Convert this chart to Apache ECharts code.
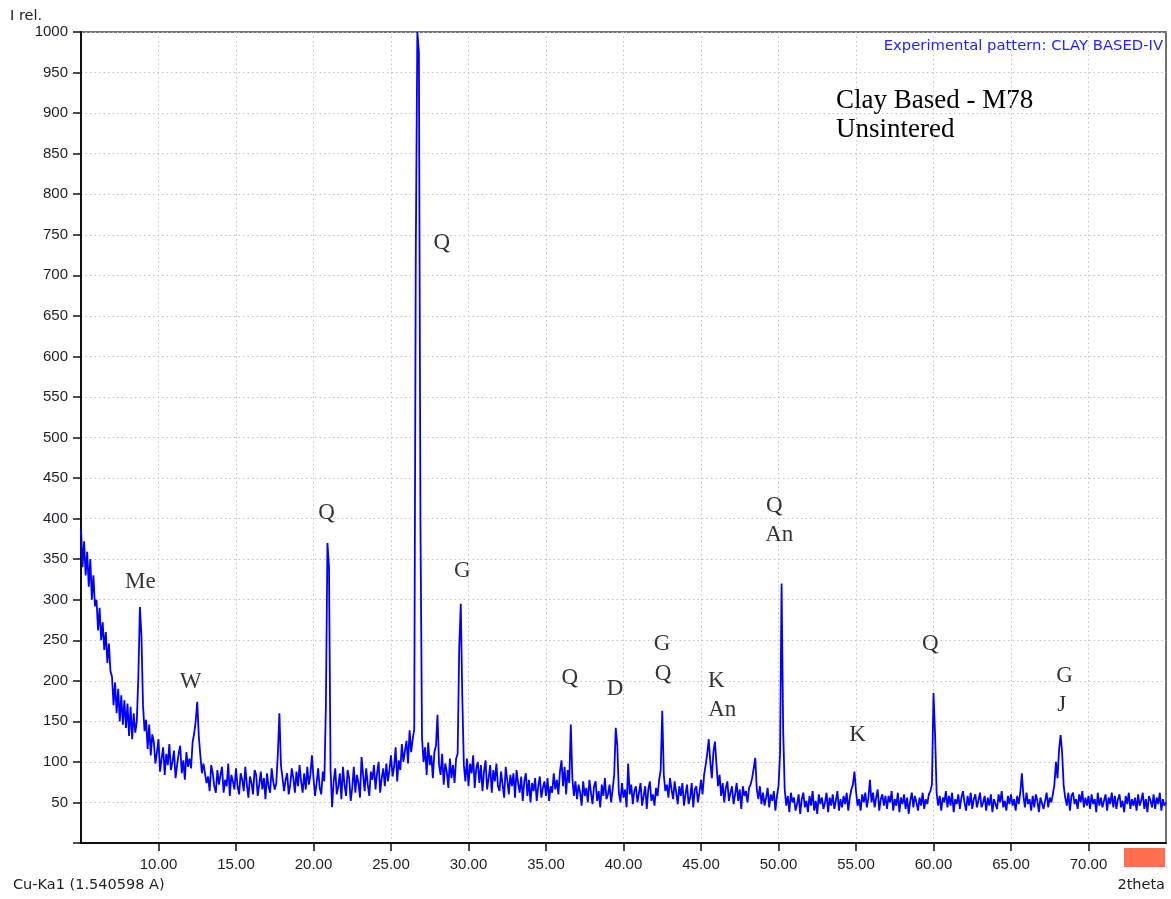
<!DOCTYPE html>
<html>
<head>
<meta charset="utf-8">
<script src="https://cdn.jsdelivr.net/npm/echarts@6/dist/echarts.min.js"></script>
<style>
html,body{margin:0;padding:0;background:#fff;}
#chart{width:1171px;height:899px;}
</style>
</head>
<body>
<div id="chart"></div>
<script>
// Measurement grid (2theta, degrees)
const startAngle = 5.0;
const stepAngle = 0.1;
const intensity = [
/* 5 */ 388,340,372,330,359,316,350,300,330,292,
/* 6 */ 300,262,290,250,272,238,260,222,246,212,
/* 7 */ 205,170,198,160,190,150,182,146,176,142,
/* 8 */ 172,132,168,128,160,136,150,205,291,255,
/* 9 */ 170,138,152,116,146,108,134,124,98,112,
/*10 */ 128,88,104,118,84,110,96,122,90,100,
/*11 */ 114,80,96,110,120,86,102,78,112,94,
/*12 */ 104,92,124,135,150,174,132,108,86,98,
/*13 */ 100,74,82,64,96,86,70,62,90,72,
/*14 */ 84,94,62,78,70,98,58,84,76,66,
/*15 */ 92,70,60,86,78,64,94,72,56,82,
/*16 */ 74,60,90,84,58,72,88,66,80,54,
/*17 */ 86,70,62,92,76,66,74,110,160,96,
/*18 */ 94,64,78,86,60,72,92,80,62,88,
/*19 */ 70,96,76,62,86,66,94,72,84,108,
/*20 */ 80,58,74,92,68,60,88,76,170,370,
/*21 */ 340,90,44,76,92,60,70,86,54,94,
/*22 */ 72,58,90,80,52,68,94,62,84,74,
/*23 */ 56,106,84,64,92,72,58,88,78,96,
/*24 */ 66,86,100,62,80,92,70,98,76,90,
/*25 */ 108,82,94,118,76,102,90,122,100,114,
/*26 */ 126,98,139,112,128,140,730,1000,975,395,
/*27 */ 130,100,118,84,124,96,108,80,112,120,
/*28 */ 158,96,84,110,72,98,88,68,104,80,
/*29 */ 96,74,104,110,240,295,180,96,76,104,
/*30 */ 70,98,86,108,68,92,100,74,96,64,
/*31 */ 88,102,66,80,96,62,90,76,98,70,
/*32 */ 64,88,72,56,94,78,60,84,70,86,
/*33 */ 56,90,74,62,82,52,76,86,58,78,
/*34 */ 50,74,64,80,52,70,82,56,68,76,
/*35 */ 58,80,52,70,62,86,66,78,60,88,
/*36 */ 102,70,94,60,90,74,146,80,58,76,
/*37 */ 54,72,62,46,76,58,68,50,78,62,
/*38 */ 48,70,76,52,64,44,72,58,80,54,
/*39 */ 60,72,50,66,84,142,120,62,50,74,
/*40 */ 56,66,44,98,60,72,48,64,70,50,
/*41 */ 62,74,46,58,70,42,66,76,52,60,
/*42 */ 46,68,58,78,90,163,84,64,72,56,
/*43 */ 80,66,54,76,62,48,70,58,74,46,
/*44 */ 60,72,48,56,74,44,66,70,50,62,
/*45 */ 78,60,84,96,110,128,100,80,112,125,
/*46 */ 96,70,84,58,74,50,68,76,52,62,
/*47 */ 70,48,60,74,52,66,42,70,58,64,
/*48 */ 50,68,72,80,92,105,66,54,70,48,
/*49 */ 62,46,56,68,44,60,52,64,40,58,
/*50 */ 70,110,320,140,66,46,58,38,62,50,
/*51 */ 56,40,48,60,36,54,62,44,52,38,
/*52 */ 58,46,64,40,52,36,60,48,56,42,
/*53 */ 50,62,38,56,46,60,42,52,64,40,
/*54 */ 54,44,58,48,62,40,56,66,72,88,
/*55 */ 64,46,54,40,60,50,62,44,56,78,
/*56 */ 50,62,44,56,66,40,54,60,46,58,
/*57 */ 42,58,50,64,40,54,46,62,38,56,
/*58 */ 48,60,42,56,36,52,62,44,58,50,
/*59 */ 40,56,46,62,42,54,48,60,64,72,
/*60 */ 185,135,62,46,58,40,56,50,64,44,
/*61 */ 58,46,62,38,54,48,60,42,56,64,
/*62 */ 50,40,58,46,62,42,54,60,44,52,
/*63 */ 62,44,50,58,40,56,46,60,38,54,
/*64 */ 56,42,60,50,64,44,52,40,58,48,
/*65 */ 60,46,54,40,58,48,62,86,58,44,
/*66 */ 62,48,54,40,58,44,60,52,38,56,
/*67 */ 58,42,52,62,44,56,50,60,72,100,
/*68 */ 80,115,133,111,70,56,46,62,40,58,
/*69 */ 62,48,54,42,60,50,64,44,56,46,
/*70 */ 58,42,60,48,54,38,62,46,56,44,
/*71 */ 52,60,40,56,48,62,44,58,42,54,
/*72 */ 60,44,52,38,58,48,62,42,54,46,
/*73 */ 56,40,60,46,52,62,42,54,38,58,
/*74 */ 52,44,60,42,56,48,62,40,54,46,
/*75 */ 50
];
// Axis ticks
const xTickValues = [10,15,20,25,30,35,40,45,50,55,60,65,70];
// Phase annotations: text, 2theta, I rel.
const peakLabelText = ['Me','W','Q','Q','G','Q','D','G','Q','K','An','Q','An','K','Q','G','J'];
const peakLabelX    = [8.83,12.07,20.85,28.28,29.6,36.54,39.45,42.49,42.55,45.98,46.37,49.73,50.05,55.1,59.8,68.46,68.27];
const peakLabelY    = [322,199,407,740,336,204,190,245,208,200,164,416,380,133,246,206,170];

const lineData = intensity.map((v,i)=>[+(startAngle + i*stepAngle).toFixed(2), v]);
const labelData = peakLabelText.map((t,i)=>({name:t, value:[peakLabelX[i], peakLabelY[i]]}));

const chart = echarts.init(document.getElementById('chart'), null, {renderer:'canvas'});
const axisFont = {fontFamily:'Liberation Sans, Arial, sans-serif', fontSize:15, color:'#1e1e2a'};
const sideFont = '14.5px "DejaVu Sans", Verdana, sans-serif';
chart.setOption({
  animation:false,
  backgroundColor:'#fff',
  grid:{left:81, right:5, top:32, bottom:56, show:true, borderColor:'#444', borderWidth:1.5, backgroundColor:'transparent'},
  xAxis:{
    type:'value', min:5, max:75, interval:5,
    axisLine:{show:true, lineStyle:{color:'#111', width:2}},
    axisTick:{show:true, customValues:xTickValues, length:8, lineStyle:{color:'#111', width:1.5}},
    axisLabel:Object.assign({show:true, customValues:xTickValues, margin:14, formatter:v=>v.toFixed(2)}, axisFont),
    splitLine:{show:true, lineStyle:{color:'#c4c4c4', type:[1.5,3], width:1}}
  },
  yAxis:{
    type:'value', min:0, max:1000, interval:50,
    axisLine:{show:true, lineStyle:{color:'#111', width:2}},
    axisTick:{show:true, length:8, lineStyle:{color:'#111', width:1.5}},
    axisLabel:Object.assign({show:true, margin:13, formatter:v=>v===0?'':String(v)}, axisFont),
    splitLine:{show:true, lineStyle:{color:'#c4c4c4', type:[1.5,3], width:1}}
  },
  graphic:[
    {type:'text', left:10, top:9, style:{text:'I rel.', font:sideFont, fill:'#222'}},
    {type:'text', left:13, top:878, style:{text:'Cu-Ka1 (1.540598 A)', font:sideFont, fill:'#222'}},
    {type:'text', right:6, top:878, style:{text:'2theta', font:sideFont, fill:'#222'}},
    {type:'rect', shape:{x:1124, y:848, width:41, height:19}, style:{fill:'#ff6e4e'}},
    {type:'text', right:8, top:39, style:{text:'Experimental pattern: CLAY BASED-IV', font:'14.8px "DejaVu Sans", Verdana, sans-serif', fill:'#2323ff'}},
    {type:'text', left:836, top:87, style:{text:'Clay Based - M78', font:'27px "Liberation Serif", "Times New Roman", serif', fill:'#000'}},
    {type:'text', left:836, top:116, style:{text:'Unsintered', font:'27px "Liberation Serif", "Times New Roman", serif', fill:'#000'}}
  ],
  series:[
    {
      type:'line', data:lineData, showSymbol:false, symbol:'none', sampling:null, clip:true,
      lineStyle:{color:'#0000ff', width:1.8}, z:3
    },
    {
      type:'scatter', data:labelData, symbol:'circle', symbolSize:1, itemStyle:{color:'rgba(0,0,0,0)'},
      label:{show:true, position:'inside', formatter:p=>p.name, fontFamily:'Liberation Serif, Times New Roman, serif', fontSize:23, color:'#000'},
      z:5, silent:true
    }
  ]
});
</script>
</body>
</html>
